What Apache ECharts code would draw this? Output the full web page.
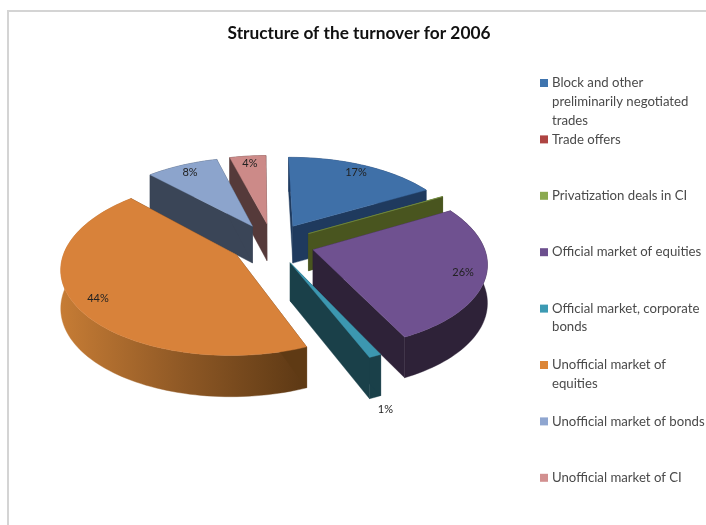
<!DOCTYPE html>
<html>
<head>
<meta charset="utf-8">
<style>html,body{margin:0;padding:0;background:#fff}#chart{width:706px;height:525px}</style>
<script src="https://cdn.jsdelivr.net/npm/echarts@6/dist/echarts.min.js"></script>
</head>
<body>
<div id="chart"></div>
<script>
// Turnover shares for 2006, in percent
var categories = [
  'Block and other\npreliminarily negotiated\ntrades',
  'Trade offers',
  'Privatization deals in CI',
  'Official market of equities',
  'Official market, corporate\nbonds',
  'Unofficial market of\nequities',
  'Unofficial market of bonds',
  'Unofficial market of CI'
];
var values = [17, 0, 0.04, 26, 1, 44, 8, 4];
var labels = ['17%', '', '', '26%', '1%', '44%', '8%', '4%'];

var legendColors = ['#3F74AE', '#AE4442', '#8BAA50', '#6C4F8E', '#3C9AB3', '#DC8536', '#8FA6D0', '#D29090'];
var topColors    = ['#3F70A8', '#A94040', '#7F9B48', '#6F5190', '#3C97B0', '#D8823A', '#8CA4CC', '#CC8A88'];
var wallColors   = ['#1F3A5E', '#5A2020', '#49551F', '#2E2238', '#1A4049', '#5F3A14', '#3A4557', '#553A3A'];

// Slices are painted from the back of the pie to the front
var paintOrder = [7, 6, 0, 1, 2, 3, 4, 5];

// Perspective projection of the tilted pie, radius 1 in pie units
var centerX = 272.5, centerY = 243.5;
var scaleX = 170, scaleY = 83, perspective = 0.14;
var explode = 0.247;
var depth = 37.5, depthPerspective = 0.08;
var firstAngle = -0.7 * Math.PI / 180;

var total = values.reduce(function (a, b) { return a + b; }, 0);
var starts = [];
values.reduce(function (acc, v, i) { starts[i] = acc; return acc + v; }, 0);

// Projects a point on the pie plane; z grows towards the back
function project(x, z) {
  var d = 1 + perspective * z;
  return [centerX + scaleX * x / d, centerY - scaleY * z / d];
}
function drop(z) {
  return depth / (1 + depthPerspective * z);
}

function renderSlice(params, api) {
  var idx = api.value(0);
  var value = values[idx];
  if (!value) { return { type: 'group', children: [] }; }
  var a0 = firstAngle + starts[idx] / total * Math.PI * 2;
  var a1 = firstAngle + (starts[idx] + value) / total * Math.PI * 2;
  var mid = (a0 + a1) / 2;
  var ox = explode * Math.sin(mid), oz = explode * Math.cos(mid);
  var steps = Math.max(2, Math.ceil((a1 - a0) / 0.03));
  var arcTop = [], arcBottom = [];
  for (var s = 0; s <= steps; s++) {
    var t = a0 + (a1 - a0) * s / steps;
    var x = ox + Math.sin(t), z = oz + Math.cos(t);
    var p = project(x, z);
    arcTop.push(p);
    arcBottom.push([p[0], p[1] + drop(z)]);
  }
  var apexTop = project(ox, oz);
  var apexBottom = [apexTop[0], apexTop[1] + drop(oz)];
  var wall = wallColors[idx];
  var outerFill = idx === 5
    ? new echarts.graphic.LinearGradient(0, 0, 1, 0, [
        { offset: 0, color: '#C67C35' },
        { offset: 0.5, color: '#8E5825' },
        { offset: 1, color: '#5C3814' }
      ])
    : wall;
  function face(points, fill) {
    return { type: 'polygon', shape: { points: points }, style: { fill: fill, stroke: fill, lineWidth: 0.4 } };
  }
  var children = [
    face(arcTop.concat(arcBottom.slice().reverse()), outerFill),
    face([apexTop, arcTop[0], arcBottom[0], apexBottom], wall),
    face([apexTop, arcTop[steps], arcBottom[steps], apexBottom], wall),
    face([apexTop].concat(arcTop), topColors[idx])
  ];
  if (labels[idx]) {
    // Thin slices carry their label below the outer wall
    var outside = value < 2;
    var reach = outside ? 1.35 : 1.12;
    var lz = reach * Math.cos(mid);
    var lp = project(reach * Math.sin(mid), lz);
    children.push({
      type: 'text',
      style: {
        x: lp[0],
        y: lp[1] + (outside ? drop(lz) + 1 : 0),
        text: labels[idx],
        fill: '#222222',
        font: '11px Lato',
        align: 'center',
        verticalAlign: 'middle'
      }
    });
  }
  return { type: 'group', children: children };
}

// Legend rows: swatch plus wrapped caption
var legendTop = 83, legendStep = 56.4;
var legendGraphics = [];
categories.forEach(function (name, i) {
  var y = legendTop + legendStep * i;
  legendGraphics.push({
    type: 'rect', left: 540, top: y - 4,
    shape: { width: 8, height: 8 }, style: { fill: legendColors[i] }
  });
  legendGraphics.push({
    type: 'text', left: 552, top: y - 9.5,
    style: { text: name, font: '13.2px Lato', fill: '#4A4A4A', lineHeight: 18.7 }
  });
});
// Chart frame along the top and left edges
legendGraphics.push({
  type: 'polyline', silent: true,
  shape: { points: [[8, 525], [8, 11], [706, 11]] },
  style: { stroke: '#D4D4D4', lineWidth: 2, fill: null }
});

var chart = echarts.init(document.getElementById('chart'), null, { renderer: 'canvas' });
chart.setOption({
  animation: false,
  backgroundColor: '#FFFFFF',
  title: {
    text: 'Structure of the turnover for 2006',
    left: 354, top: 20, textAlign: 'center',
    textStyle: { fontFamily: 'Lato', fontWeight: 'bold', fontSize: 17.3, color: '#111111' }
  },
  graphic: legendGraphics,
  series: [{
    type: 'custom',
    coordinateSystem: 'none',
    renderItem: renderSlice,
    data: paintOrder.map(function (i) { return [i]; })
  }]
});
</script>
</body>
</html>
